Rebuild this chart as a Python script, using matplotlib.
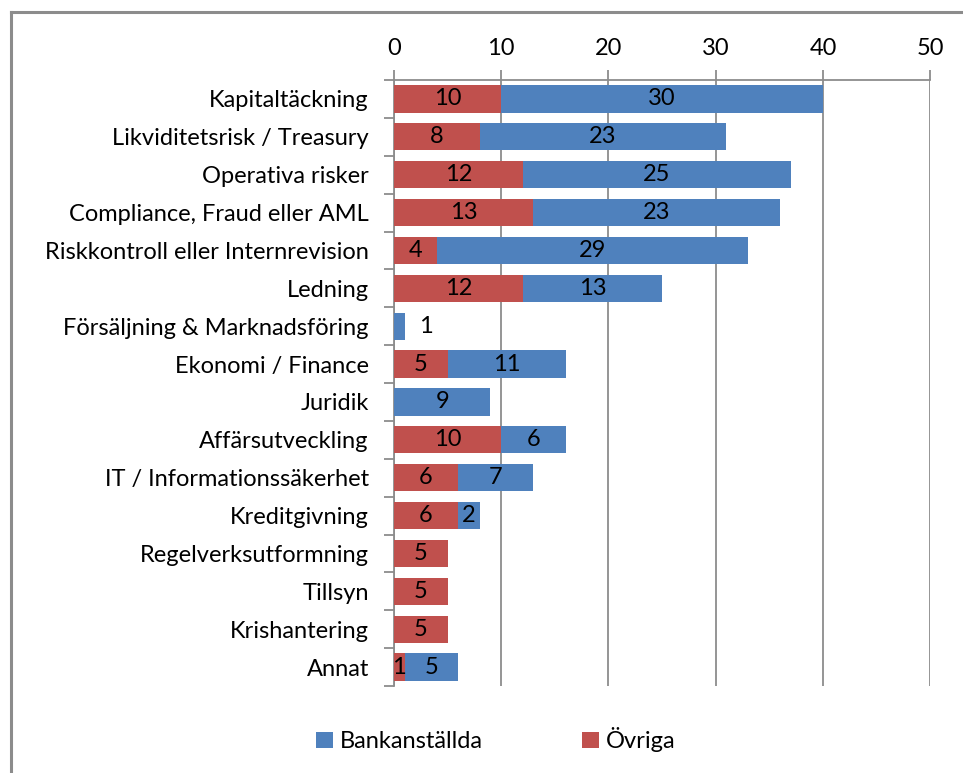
import matplotlib.pyplot as plt
import numpy as np
from matplotlib.lines import Line2D

#-------------- data ---------------------
categories = ["Kapitaltäckning", "Likviditetsrisk / Treasury", "Operativa risker",
              "Compliance, Fraud eller AML", "Riskkontroll eller Internrevision",
              "Ledning", "Försäljning & Marknadsföring", "Ekonomi / Finance",
              "Juridik", "Affärsutveckling", "IT / Informationssäkerhet",
              "Kreditgivning", "Regelverksutformning", "Tillsyn",
              "Krishantering", "Annat"]
ovriga = [10, 8, 12, 13, 4, 12, 0, 5, 0, 10, 6, 6, 5, 5, 5, 1]
bank = [30, 23, 25, 23, 29, 13, 1, 11, 9, 6, 7, 2, 0, 0, 0, 5]
xticks = [0, 10, 20, 30, 40, 50]
#-----------------------------------------

blue = "#4F81BD"
red = "#C0504D"
grey = "#8C8C8C"
fs = 17

plt.rcParams['font.family'] = ['Lato', 'DejaVu Sans']

fig = plt.figure(figsize=(9.63, 7.73), dpi=100)
ax = fig.add_axes([0.409, 0.1125, 0.557, 0.784])

y = np.arange(len(categories))
ax.barh(y, ovriga, height=0.72, color=red, label="Övriga", zorder=3)
ax.barh(y, bank, left=ovriga, height=0.72, color=blue, label="Bankanställda", zorder=3)

# labels in the bars
for i in range(len(categories)):
    o = ovriga[i]
    b = bank[i]
    if o > 0:
        ax.text(o / 2, i, str(o), ha="center", va="center", fontsize=fs, color="black", zorder=4)
    if b > 0:
        if o + b < 2:
            ax.text(o + b + 2, i, str(b), ha="center", va="center", fontsize=fs, color="black", zorder=4)
        else:
            ax.text(o + b / 2, i, str(b), ha="center", va="center", fontsize=fs, color="black", zorder=4)

ax.set_xlim(0, 50)
ax.set_ylim(len(categories) - 0.5, -0.5)
ax.set_xticks(xticks)
ax.xaxis.tick_top()
ax.tick_params(axis="x", direction="out", length=7, color=grey, width=1.3, labelsize=fs, pad=8)
ax.set_yticks(y)
ax.set_yticklabels(categories, fontsize=fs)
ax.set_yticks(np.arange(len(categories) + 1) - 0.5, minor=True)
ax.tick_params(axis="y", which="major", length=0, pad=18)
ax.tick_params(axis="y", which="minor", direction="out", length=7, color=grey, width=1.3)

ax.grid(axis="x", color=grey, linewidth=1.3, zorder=0)
for s in ["bottom", "right"]:
    ax.spines[s].set_visible(False)
for s in ["top", "left"]:
    ax.spines[s].set_color(grey)
    ax.spines[s].set_linewidth(1.3)

handles, labels = ax.get_legend_handles_labels()
fig.legend(handles[::-1], labels[::-1], loc="center", bbox_to_anchor=(0.515, 0.043), ncol=2,
           frameon=False, fontsize=fs, handlelength=0.7, handleheight=0.7,
           columnspacing=4.2, handletextpad=0.3)

# chart frame (only top and left visible)
fig.add_artist(Line2D([0.0115, 1.0], [1 - 12 / 773, 1 - 12 / 773], transform=fig.transFigure, color=grey, linewidth=2.2))
fig.add_artist(Line2D([0.0115, 0.0115], [0.0, 1 - 12 / 773], transform=fig.transFigure, color=grey, linewidth=2.2))

fig.savefig("out.png", dpi=100)
